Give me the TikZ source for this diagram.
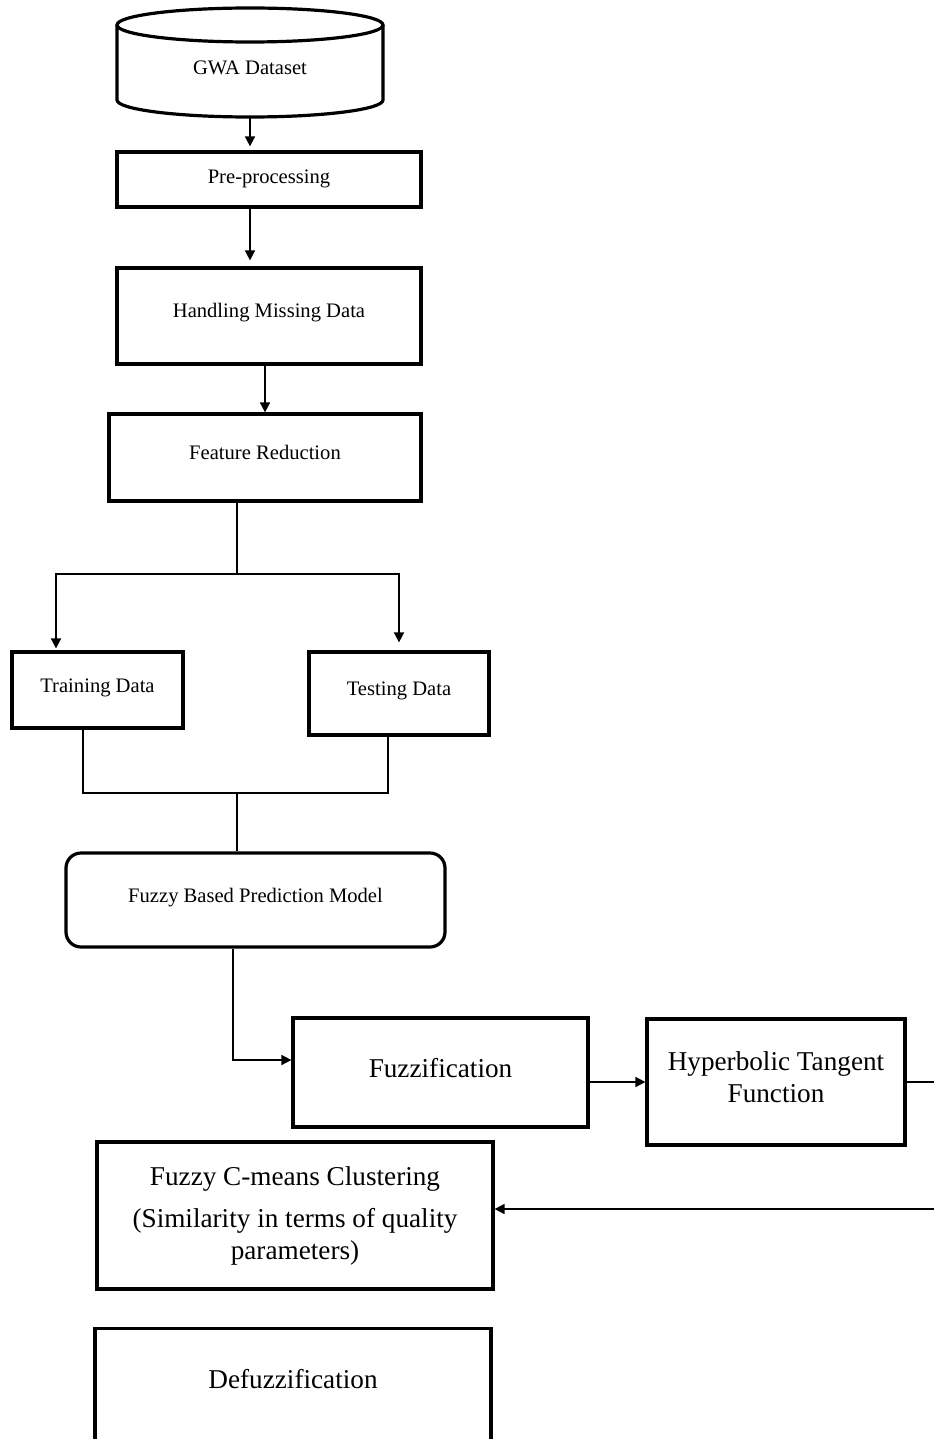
\documentclass[tikz,border=0pt]{standalone}
\usepackage{fontspec}
\setmainfont{Liberation Serif}
\usetikzlibrary{arrows.meta}

\tikzset{
    box/.style={draw, line width=1.6pt, rectangle, inner sep=0pt},
    small/.style={font=\fontsize{10.3}{12.5}\selectfont},
    big/.style={font=\fontsize{13.6}{16}\selectfont},
    conn/.style={line width=0.8pt},
    arr/.style={line width=0.8pt, -{Triangle[length=5pt,width=5pt]}}
}

\begin{document}
\begin{tikzpicture}[x=0.5pt, y=-0.5pt]
    \useasboundingbox (0,0) rectangle (934,1439);

    % dataset
    \draw[line width=1.6pt] (117,25) -- (117,100) arc[start angle=180, end angle=0, x radius=133, y radius=17] -- (383,25);
    \draw[line width=1.6pt] (250,25) ellipse [x radius=133, y radius=17];
    \node[small] (ds) at (250,68) {GWA Dataset};
    \coordinate (dsb) at (250,117);

    % preparation
    \node[box, small, minimum width=152pt, minimum height=27.5pt, text depth=3pt] (pre) at (269,179.5) {Pre-processing};
    \node[box, small, minimum width=152pt, minimum height=48pt, text depth=5.2pt] (hmd) at (269,316) {Handling Missing Data};
    \node[box, small, minimum width=156pt, minimum height=43.5pt, text depth=5pt] (fr) at (265,457.5) {Feature Reduction};

    % split
    \node[box, small, minimum width=85.5pt, minimum height=38pt, text depth=4.2pt] (train) at (97.5,690) {Training Data};
    \node[box, small, minimum width=90pt, minimum height=41.5pt, text depth=5.2pt] (test) at (399,693.5) {Testing Data};
    \coordinate (sp) at (237,574);
    \coordinate (tl) at (56,574);
    \coordinate (jl) at (83,793);
    \coordinate (jm) at (237,793);
    \coordinate (jr) at (388,793);

    % model
    \node[box, small, rounded corners=7.5pt, minimum width=189.5pt, minimum height=47pt, text depth=4.2pt] (fbpm) at (255.5,900) {Fuzzy Based Prediction Model};
    \coordinate (fb) at (233,1060);
    \node[box, big, minimum width=147.5pt, minimum height=54.5pt, text depth=5pt] (fuzz) at (440.5,1072.5) {Fuzzification};
    \node[box, big, align=center, minimum width=129pt, minimum height=63pt, text depth=5pt] (htf) at (776,1082) {Hyperbolic Tangent\\Function};
    \node[box, big, align=center, minimum width=198pt, minimum height=73.5pt] (fcm) at (295,1215.5) {Fuzzy C-means Clustering\\[5pt](Similarity in terms of quality\\parameters)};
    \node[box, big, anchor=north, minimum width=198pt, text height=30pt, text depth=40pt] (defz) at (293,1327) {Defuzzification};
    \coordinate (re) at (934,1082);
    \coordinate (re2) at (934,1209);

    % connectors
    \draw[arr, shorten >=2pt] (dsb) -- (dsb |- pre.north);
    \draw[arr, shorten >=3pt] (pre.south -| dsb) -- (hmd.north -| dsb);
    \draw[arr] (hmd.south -| fr.north) -- (fr.north);
    \draw[conn] (fr.south -| sp) -- (sp);
    \draw[arr, shorten >=1pt] (sp) -- (tl) -- (train.north -| tl);
    \draw[arr, shorten >=4pt] (sp) -| (test.north);
    \draw[conn] (train.south -| jl) -- (jl) -- (jr) -- (test.south -| jr);
    \draw[conn] (jm) -- (fbpm.north -| jm);
    \draw[arr] (fbpm.south -| fb) -- (fb) -- (fb -| fuzz.west);
    \draw[arr] (fuzz.east |- htf.west) -- (htf.west);
    \draw[conn] (htf.east) -- (re);
    \draw[arr] (re2) -- (fcm.east |- re2);
\end{tikzpicture}
\end{document}
